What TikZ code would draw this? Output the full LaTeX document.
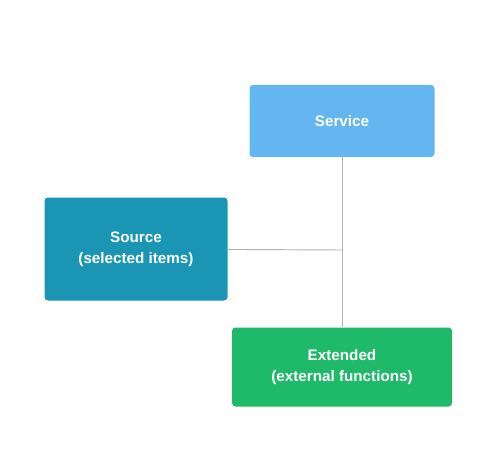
\documentclass[tikz,border=0pt]{standalone}
\usepackage{fontspec}
\setmainfont{Liberation Sans}
\tikzset{
  box/.style={rounded corners=3pt, text=white, align=center, font=\fontsize{13}{18}\selectfont\bfseries, inner sep=0pt},
  link/.style={draw=gray!60, line width=0.8pt}
}
\definecolor{topblue}{RGB}{100,182,240}
\definecolor{leftteal}{RGB}{26,150,180}
\definecolor{botgreen}{RGB}{30,185,105}
\begin{document}
\begin{tikzpicture}[x=0.03cm, y=-0.03cm]
        \useasboundingbox (0,0) rectangle (482,457);
        \node[box, fill=topblue, minimum width=185*0.03cm, minimum height=72*0.03cm] (entity) at (342,121) {Service};
        \node[box, fill=leftteal, minimum width=183*0.03cm, minimum height=103*0.03cm] (source) at (136,249) {Source\\(selected items)};
        \node[box, fill=botgreen, minimum width=220*0.03cm, minimum height=79*0.03cm] (external) at (342,367) {Extended\\(external functions)};
        \coordinate (join) at (342,250);
        \draw[link] (entity) -- (external);
        \draw[link] (source) -- (join);
    \end{tikzpicture}
\end{document}
